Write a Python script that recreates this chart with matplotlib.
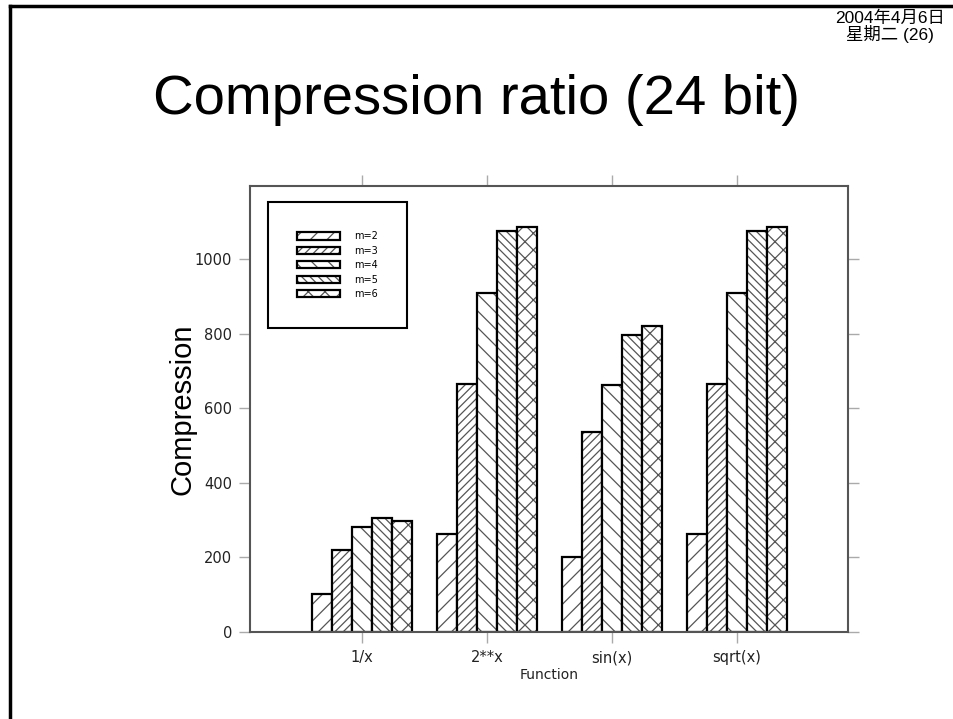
import numpy as np
import matplotlib.pyplot as plt
from matplotlib.lines import Line2D
from matplotlib.patches import Patch
from matplotlib.legend_handler import HandlerTuple

functions = ['1/x', '2**x', 'sin(x)', 'sqrt(x)']
labels = ['m=2', 'm=3', 'm=4', 'm=5', 'm=6']
m2 = [101, 263, 202, 263]
m3 = [220, 665, 536, 665]
m4 = [282, 909, 662, 909]
m5 = [306, 1075, 797, 1075]
m6 = [297, 1086, 821, 1086]
yticks = [0, 200, 400, 600, 800, 1000]

series = [m2, m3, m4, m5, m6]
hatches = ['//', '////', '\\\\', '\\\\\\\\', 'xx']

plt.rcParams['font.family'] = ['DejaVu Sans']
plt.rcParams['hatch.linewidth'] = 0.9

fig = plt.figure(figsize=(9.54, 7.19), dpi=100)
ax = fig.add_axes([0.262, 0.121, 0.627, 0.620])

width = 0.16
ind = np.arange(len(functions))
handles = []
for i, (vals, h) in enumerate(zip(series, hatches)):
    pos = ind + (i - 2) * width
    ax.bar(pos, vals, width, color='white', edgecolor='#555555', hatch=h, linewidth=0)
    ax.bar(pos, vals, width, fill=False, edgecolor='black', linewidth=1.6)
    handles.append((Patch(facecolor='white', edgecolor='#555555', hatch=h, linewidth=0),
                    Patch(fill=False, edgecolor='black', linewidth=1.6)))

ax.set_xlim(-0.896, 3.888)
ax.set_ylim(0, 1196)
ax.set_xticks(ind)
ax.set_xticklabels(functions)
ax.set_yticks(yticks)
ax.tick_params(direction='out', length=8, width=1, color='#aaaaaa',
               top=True, right=True, labelsize=10.5, labelcolor='#222222', pad=5)
for s in ax.spines.values():
    s.set_color('#555555')
    s.set_linewidth(1.5)

ax.set_xlabel('Function', fontsize=10, labelpad=2, color='#222222')
ax.set_ylabel('Compression', fontsize=21, family='Liberation Sans')
ax.yaxis.set_label_coords(-0.09, 0.5)

leg = ax.legend(handles, labels, handler_map={tuple: HandlerTuple(ndivide=1, pad=0)},
                loc='upper left', bbox_to_anchor=(0.03, 0.964), borderaxespad=0,
                fontsize=7, handlelength=4.4, handleheight=0.75, handletextpad=1.5,
                labelspacing=0.45, borderpad=3.0, fancybox=False, framealpha=1)
leg.get_frame().set_edgecolor('black')
leg.get_frame().set_linewidth(1.5)

fig.text(0.5, 1 - 100 / 719, 'Compression ratio (24 bit)', ha='center', va='center',
         fontsize=40.5, family='Liberation Sans')
fig.text(890 / 954, 1 - 10 / 719, '2004年4月6日\n星期二 (26)', ha='center', va='top',
         fontsize=12.5, family=['Liberation Sans', 'Noto Sans CJK SC'], linespacing=1.0)

# slide border
fig.add_artist(Line2D([10 / 954, 1], [1 - 6 / 719, 1 - 6 / 719], color='black', lw=2.5))
fig.add_artist(Line2D([10 / 954, 10 / 954], [0, 1 - 6 / 719], color='black', lw=2.5))

fig.savefig('out.png', dpi=100)
